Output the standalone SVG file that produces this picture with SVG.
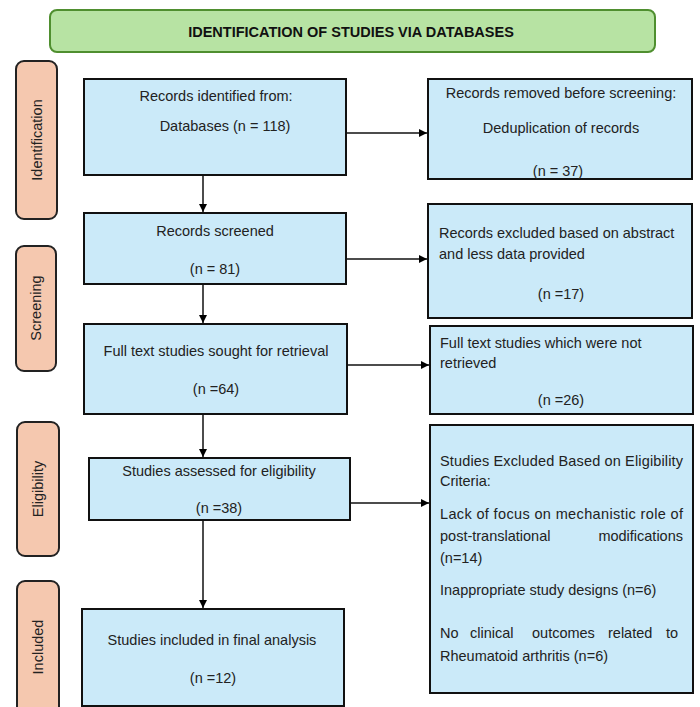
<svg xmlns="http://www.w3.org/2000/svg" width="700" height="707" viewBox="0 0 700 707">
<defs>
<marker id="ah" viewBox="0 0 10 10" refX="10" refY="5" markerWidth="8" markerHeight="8" markerUnits="userSpaceOnUse" orient="auto">
<path d="M0,0 L10,5 L0,10 z" fill="#000"/>
</marker>
<style>
text{font-family:"Liberation Sans",Arial,sans-serif;font-size:14.5px;fill:#222}
.c{text-anchor:middle}
.e{text-anchor:end}
.box{fill:#cbeaf9;stroke:#111;stroke-width:2}
.side{fill:#f5c8af;stroke:#222;stroke-width:2}
.hdr{fill:#b7e3a3;stroke:#4f8f2f;stroke-width:2}
.hdrt{font-weight:bold;font-size:14.5px;fill:#111}
.conn line{stroke:#111;stroke-width:1.5;marker-end:url(#ah)}
</style>
</defs>
<rect width="700" height="707" fill="#fff"/>

<g id="header">
<rect class="hdr" x="50" y="10" width="605" height="42" rx="7"/>
<text class="hdrt c" x="351" y="37">IDENTIFICATION OF STUDIES VIA DATABASES</text>
</g>

<g id="label-identification">
<rect class="side" x="16" y="61" width="41" height="158" rx="8"/>
<text class="c" transform="translate(42,140) rotate(-90)">Identification</text>
</g>
<g id="label-screening">
<rect class="side" x="16" y="246" width="40" height="125" rx="8"/>
<text class="c" transform="translate(41,308) rotate(-90)">Screening</text>
</g>
<g id="label-eligibility">
<rect class="side" x="17" y="422" width="42" height="134" rx="8"/>
<text class="c" transform="translate(43,489) rotate(-90)">Eligibility</text>
</g>
<g id="label-included">
<rect class="side" x="17" y="581" width="42" height="140" rx="8"/>
<text class="c" transform="translate(43,647) rotate(-90)">Included</text>
</g>

<g id="records-identified">
<rect class="box" x="84" y="79" width="262" height="96"/>
<text class="c" x="216" y="101">Records identified from:</text>
<text class="c" x="225" y="131">Databases (n = 118)</text>
</g>

<g id="records-removed">
<rect class="box" x="428" y="79" width="264" height="100"/>
<text class="c" x="561" y="98">Records removed before screening:</text>
<text class="c" x="561" y="133">Deduplication  of records</text>
<text class="c" x="558" y="176">(n = 37)</text>
</g>

<g id="records-screened">
<rect class="box" x="84" y="213" width="262" height="71"/>
<text class="c" x="215" y="236">Records screened</text>
<text class="c" x="215" y="274">(n = 81)</text>
</g>

<g id="records-excluded">
<rect class="box" x="428" y="204" width="264" height="114"/>
<text x="439" y="238">Records excluded  based on abstract</text>
<text x="439" y="259">and less data provided</text>
<text class="c" x="561" y="299">(n =17)</text>
</g>

<g id="fulltext-sought">
<rect class="box" x="84" y="324" width="263" height="90"/>
<text class="c" x="216" y="356">Full text studies sought for retrieval</text>
<text class="c" x="216" y="394">(n =64)</text>
</g>

<g id="fulltext-not-retrieved">
<rect class="box" x="430" y="326" width="263" height="88"/>
<text x="440" y="348">Full text studies which were not</text>
<text x="440" y="368">retrieved</text>
<text class="c" x="561" y="405">(n =26)</text>
</g>

<g id="assessed-eligibility">
<rect class="box" x="89" y="458" width="261" height="62"/>
<text class="c" x="219" y="476">Studies  assessed for eligibility</text>
<text class="c" x="219" y="513">(n =38)</text>
</g>

<g id="excluded-eligibility">
<rect class="box" x="430" y="425" width="263" height="268"/>
<text x="440" y="466" textLength="243" lengthAdjust="spacing">Studies Excluded Based on Eligibility</text>
<text x="440" y="486">Criteria:</text>
<text x="440" y="519" textLength="243" lengthAdjust="spacing">Lack of focus on mechanistic role of</text>
<text x="440" y="541">post-translational</text>
<text class="e" x="683" y="541">modifications</text>
<text x="440" y="563">(n=14)</text>
<text x="440" y="595">Inappropriate study designs (n=6)</text>
<text y="638"><tspan x="440">No</tspan><tspan x="470">clinical</tspan><tspan x="532">outcomes</tspan><tspan x="608">related</tspan><tspan x="666">to</tspan></text>
<text x="440" y="661">Rheumatoid arthritis (n=6)</text>
</g>

<g id="studies-included">
<rect class="box" x="82" y="609" width="262" height="97"/>
<text class="c" x="212" y="645">Studies  included  in final analysis</text>
<text class="c" x="213" y="683">(n =12)</text>
</g>

<g id="connectors" class="conn">
<line x1="346" y1="133" x2="427" y2="133"/>
<line x1="203" y1="175" x2="203" y2="212"/>
<line x1="346" y1="259" x2="427" y2="259"/>
<line x1="203" y1="284" x2="203" y2="323"/>
<line x1="347" y1="365" x2="429" y2="365"/>
<line x1="203" y1="414" x2="203" y2="457"/>
<line x1="350" y1="503" x2="429" y2="503"/>
<line x1="203" y1="520" x2="203" y2="608"/>
</g>
</svg>
